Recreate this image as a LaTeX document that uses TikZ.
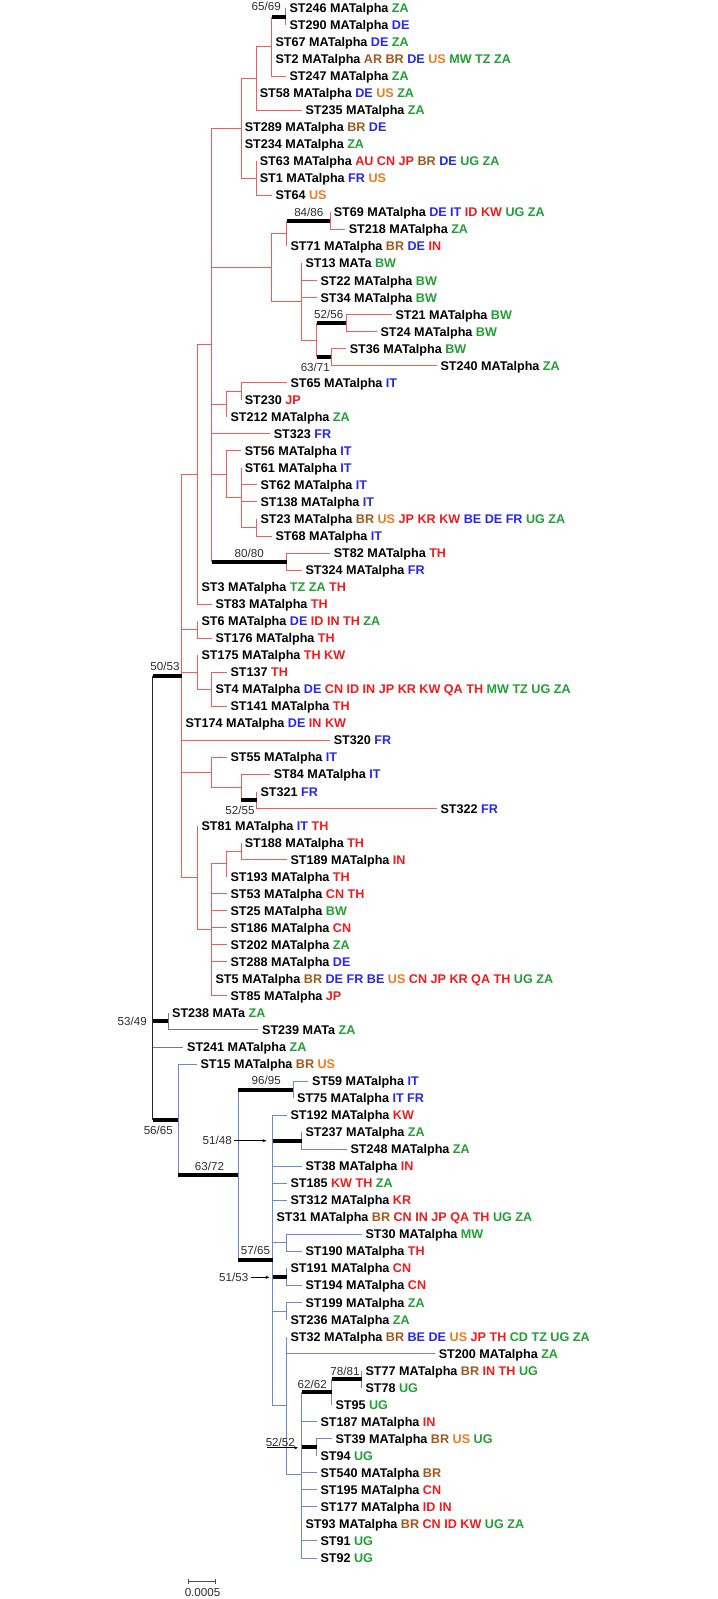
\documentclass[tikz,border=0pt]{standalone}
\usepackage{fontspec}
\setmainfont{Liberation Sans}
\usetikzlibrary{arrows.meta}
\definecolor{cgr}{RGB}{34,160,52}
\definecolor{cbl}{RGB}{40,40,235}
\definecolor{crd}{RGB}{238,28,28}
\definecolor{cbr}{RGB}{160,90,30}
\definecolor{cor}{RGB}{240,122,32}
\definecolor{brred}{RGB}{242,92,92}
\definecolor{brblue}{RGB}{108,138,198}
\definecolor{brgray}{RGB}{120,120,120}
\definecolor{brblack}{RGB}{40,40,40}
\definecolor{suptext}{RGB}{45,45,45}
\newcommand\cG[1]{\textcolor{cgr}{#1}}
\newcommand\cB[1]{\textcolor{cbl}{#1}}
\newcommand\cR[1]{\textcolor{crd}{#1}}
\newcommand\cN[1]{\textcolor{cbr}{#1}}
\newcommand\cO[1]{\textcolor{cor}{#1}}
\newcommand\ry[1]{17.033*#1-9.033}
\newcommand\thk[3]{\draw[#1] (#2) -- (#2 |- #3); \draw[tb] (#2 |- #3) -- (#3);}
\tikzset{
  lf/.style={anchor=west, inner xsep=1.7pt, inner ysep=0pt, text height=4.5pt, text depth=0pt,
    font=\fontsize{6.3}{7}\selectfont\bfseries, text=black},
  sup/.style={inner sep=1pt, text height=4.15pt, text depth=0pt,
    font=\fontsize{5.8}{6.5}\selectfont, text=suptext},
  rb/.style={draw=brred, line width=0.5pt},
  bb/.style={draw=brblue, line width=0.5pt},
  gb/.style={draw=brgray, line width=0.5pt},
  kb/.style={draw=brblack, line width=0.5pt},
  tb/.style={draw=black, line width=2pt},
  arr/.style={draw=black, line width=0.4pt, -{Stealth[length=2pt,width=1.6pt]}},
  sbar/.style={draw=black!70, line width=0.5pt}
}
\begin{document}
\begin{tikzpicture}[x=0.5pt,y=-0.5pt]
\fill[white] (0,0) rectangle (717,1599);
\useasboundingbox (0,0) rectangle (717,1599);

% ---------- leaves ----------
\node[lf] (s246) at (285.7,\ry{1}) {ST246 MATalpha \cG{ZA}};
\node[lf] (s290) at (285.7,\ry{2}) {ST290 MATalpha \cB{DE}};
\node[lf] (s67) at (271.7,\ry{3}) {ST67 MATalpha \cB{DE} \cG{ZA}};
\node[lf] (s2) at (271.7,\ry{4}) {ST2 MATalpha \cN{AR BR} \cB{DE} \cO{US} \cG{MW TZ ZA}};
\node[lf] (s247) at (285.7,\ry{5}) {ST247 MATalpha \cG{ZA}};
\node[lf] (s58) at (256,\ry{6}) {ST58 MATalpha \cB{DE} \cO{US} \cG{ZA}};
\node[lf] (s235) at (301.7,\ry{7}) {ST235 MATalpha \cG{ZA}};
\node[lf] (s289) at (241,\ry{8}) {ST289 MATalpha \cN{BR} \cB{DE}};
\node[lf] (s234) at (241,\ry{9}) {ST234 MATalpha \cG{ZA}};
\node[lf] (s63) at (256,\ry{10}) {ST63 MATalpha \cR{AU CN JP} \cN{BR} \cB{DE} \cG{UG ZA}};
\node[lf] (s1) at (256,\ry{11}) {ST1 MATalpha \cB{FR} \cO{US}};
\node[lf] (s64) at (271.7,\ry{12}) {ST64 \cO{US}};
\node[lf] (s69) at (330,\ry{13}) {ST69 MATalpha \cB{DE IT} \cR{ID KW} \cG{UG ZA}};
\node[lf] (s218) at (345,\ry{14}) {ST218 MATalpha \cG{ZA}};
\node[lf] (s71) at (286.7,\ry{15}) {ST71 MATalpha \cN{BR} \cB{DE} \cR{IN}};
\node[lf] (s13) at (301.7,\ry{16}) {ST13 MATa \cG{BW}};
\node[lf] (s22) at (316.7,\ry{17}) {ST22 MATalpha \cG{BW}};
\node[lf] (s34) at (316.7,\ry{18}) {ST34 MATalpha \cG{BW}};
\node[lf] (s21) at (391.7,\ry{19}) {ST21 MATalpha \cG{BW}};
\node[lf] (s24) at (376.7,\ry{20}) {ST24 MATalpha \cG{BW}};
\node[lf] (s36) at (346,\ry{21}) {ST36 MATalpha \cG{BW}};
\node[lf] (s240) at (436.7,\ry{22}) {ST240 MATalpha \cG{ZA}};
\node[lf] (s65) at (286.7,\ry{23}) {ST65 MATalpha \cB{IT}};
\node[lf] (s230) at (241,\ry{24}) {ST230 \cR{JP}};
\node[lf] (s212) at (226.7,\ry{25}) {ST212 MATalpha \cG{ZA}};
\node[lf] (s323) at (270,\ry{26}) {ST323 \cB{FR}};
\node[lf] (s56) at (241,\ry{27}) {ST56 MATalpha \cB{IT}};
\node[lf] (s61) at (241,\ry{28}) {ST61 MATalpha \cB{IT}};
\node[lf] (s62) at (256.7,\ry{29}) {ST62 MATalpha \cB{IT}};
\node[lf] (s138) at (256.7,\ry{30}) {ST138 MATalpha \cB{IT}};
\node[lf] (s23) at (256.7,\ry{31}) {ST23 MATalpha \cN{BR} \cO{US} \cR{JP KR KW} \cB{BE DE FR} \cG{UG ZA}};
\node[lf] (s68) at (271.7,\ry{32}) {ST68 MATalpha \cB{IT}};
\node[lf] (s82) at (330,\ry{33}) {ST82 MATalpha \cR{TH}};
\node[lf] (s324) at (301.7,\ry{34}) {ST324 MATalpha \cB{FR}};
\node[lf] (s3) at (197.7,\ry{35}) {ST3 MATalpha \cG{TZ ZA} \cR{TH}};
\node[lf] (s83) at (211.7,\ry{36}) {ST83 MATalpha \cR{TH}};
\node[lf] (s6) at (197.7,\ry{37}) {ST6 MATalpha \cB{DE} \cR{ID IN TH} \cG{ZA}};
\node[lf] (s176) at (211.7,\ry{38}) {ST176 MATalpha \cR{TH}};
\node[lf] (s175) at (197.7,\ry{39}) {ST175 MATalpha \cR{TH KW}};
\node[lf] (s137) at (226.7,\ry{40}) {ST137 \cR{TH}};
\node[lf] (s4) at (211.7,\ry{41}) {ST4 MATalpha \cB{DE} \cR{CN ID IN JP KR KW QA TH} \cG{MW TZ UG ZA}};
\node[lf] (s141) at (226.7,\ry{42}) {ST141 MATalpha \cR{TH}};
\node[lf] (s174) at (181.7,\ry{43}) {ST174 MATalpha \cB{DE} \cR{IN KW}};
\node[lf] (s320) at (330,\ry{44}) {ST320 \cB{FR}};
\node[lf] (s55) at (226.7,\ry{45}) {ST55 MATalpha \cB{IT}};
\node[lf] (s84) at (270,\ry{46}) {ST84 MATalpha \cB{IT}};
\node[lf] (s321) at (256.7,\ry{47}) {ST321 \cB{FR}};
\node[lf] (s322) at (436.7,\ry{48}) {ST322 \cB{FR}};
\node[lf] (s81) at (197.7,\ry{49}) {ST81 MATalpha \cB{IT} \cR{TH}};
\node[lf] (s188) at (241,\ry{50}) {ST188 MATalpha \cR{TH}};
\node[lf] (s189) at (286.7,\ry{51}) {ST189 MATalpha \cR{IN}};
\node[lf] (s193) at (226.7,\ry{52}) {ST193 MATalpha \cR{TH}};
\node[lf] (s53) at (226.7,\ry{53}) {ST53 MATalpha \cR{CN TH}};
\node[lf] (s25) at (226.7,\ry{54}) {ST25 MATalpha \cG{BW}};
\node[lf] (s186) at (226.7,\ry{55}) {ST186 MATalpha \cR{CN}};
\node[lf] (s202) at (226.7,\ry{56}) {ST202 MATalpha \cG{ZA}};
\node[lf] (s288) at (226.7,\ry{57}) {ST288 MATalpha \cB{DE}};
\node[lf] (s5) at (211.7,\ry{58}) {ST5 MATalpha \cN{BR} \cB{DE FR BE} \cO{US} \cR{CN JP KR QA TH} \cG{UG ZA}};
\node[lf] (s85) at (226.7,\ry{59}) {ST85 MATalpha \cR{JP}};
\node[lf] (s238) at (168.3,\ry{60}) {ST238 MATa \cG{ZA}};
\node[lf] (s239) at (258.3,\ry{61}) {ST239 MATa \cG{ZA}};
\node[lf] (s241) at (183.3,\ry{62}) {ST241 MATalpha \cG{ZA}};
\node[lf] (s15) at (196.7,\ry{63}) {ST15 MATalpha \cN{BR} \cO{US}};
\node[lf] (s59) at (308.3,\ry{64}) {ST59 MATalpha \cB{IT}};
\node[lf] (s75) at (293.3,\ry{65}) {ST75 MATalpha \cB{IT FR}};
\node[lf] (s192) at (286.7,\ry{66}) {ST192 MATalpha \cR{KW}};
\node[lf] (s237) at (301.7,\ry{67}) {ST237 MATalpha \cG{ZA}};
\node[lf] (s248) at (346.7,\ry{68}) {ST248 MATalpha \cG{ZA}};
\node[lf] (s38) at (301.7,\ry{69}) {ST38 MATalpha \cR{IN}};
\node[lf] (s185) at (286.7,\ry{70}) {ST185 \cR{KW TH} \cG{ZA}};
\node[lf] (s312) at (286.7,\ry{71}) {ST312 MATalpha \cR{KR}};
\node[lf] (s31) at (272.7,\ry{72}) {ST31 MATalpha \cN{BR} \cR{CN IN JP QA TH} \cG{UG ZA}};
\node[lf] (s30) at (361.7,\ry{73}) {ST30 MATalpha \cG{MW}};
\node[lf] (s190) at (301.7,\ry{74}) {ST190 MATalpha \cR{TH}};
\node[lf] (s191) at (286.7,\ry{75}) {ST191 MATalpha \cR{CN}};
\node[lf] (s194) at (301.7,\ry{76}) {ST194 MATalpha \cR{CN}};
\node[lf] (s199) at (301.7,\ry{77}) {ST199 MATalpha \cG{ZA}};
\node[lf] (s236) at (286.7,\ry{78}) {ST236 MATalpha \cG{ZA}};
\node[lf] (s32) at (286.7,\ry{79}) {ST32 MATalpha \cN{BR} \cB{BE DE} \cO{US} \cR{JP TH} \cG{CD TZ UG ZA}};
\node[lf] (s200) at (435,\ry{80}) {ST200 MATalpha \cG{ZA}};
\node[lf] (s77) at (361.7,\ry{81}) {ST77 MATalpha \cN{BR} \cR{IN TH} \cG{UG}};
\node[lf] (s78) at (361.7,\ry{82}) {ST78 \cG{UG}};
\node[lf] (s95) at (331.7,\ry{83}) {ST95 \cG{UG}};
\node[lf] (s187) at (316.7,\ry{84}) {ST187 MATalpha \cR{IN}};
\node[lf] (s39) at (331.7,\ry{85}) {ST39 MATalpha \cN{BR} \cO{US} \cG{UG}};
\node[lf] (s94) at (316.7,\ry{86}) {ST94 \cG{UG}};
\node[lf] (s540) at (316.7,\ry{87}) {ST540 MATalpha \cN{BR}};
\node[lf] (s195) at (316.7,\ry{88}) {ST195 MATalpha \cR{CN}};
\node[lf] (s177) at (316.7,\ry{89}) {ST177 MATalpha \cR{ID IN}};
\node[lf] (s93) at (301.7,\ry{90}) {ST93 MATalpha \cN{BR} \cR{CN ID KW} \cG{UG ZA}};
\node[lf] (s91) at (316.7,\ry{91}) {ST91 \cG{UG}};
\node[lf] (s92) at (316.7,\ry{92}) {ST92 \cG{UG}};

% ---------- internal nodes ----------
\coordinate (A1a) at (285.7,\ry{1.5});
\coordinate (A1) at (271.7,\ry{3.25});
\coordinate (A2) at (256,\ry{5.125});
\coordinate (A3) at (256,\ry{11});
\coordinate (A4) at (241,\ry{8.0625});
\coordinate (B2) at (330,\ry{13.5});
\coordinate (B1) at (286.7,\ry{14.25});
\coordinate (B6) at (346,\ry{19.5});
\coordinate (B7) at (331,\ry{21.5});
\coordinate (B5) at (316.7,\ry{20.5});
\coordinate (B4) at (301.7,\ry{18.25});
\coordinate (B3) at (271.7,\ry{16.25});
\coordinate (C1) at (241,\ry{23.5});
\coordinate (C2) at (226.7,\ry{24.25});
\coordinate (D3) at (256.7,\ry{31.5});
\coordinate (D2) at (241,\ry{29.75});
\coordinate (D1) at (226.7,\ry{28.375});
\coordinate (E1) at (286.7,\ry{33.5});
\coordinate (X211) at (211.7,\ry{20.78});
\coordinate (X197) at (197.7,\ry{28.39});
\coordinate (F1) at (197.7,\ry{37.5});
\coordinate (G2) at (211.7,\ry{41});
\coordinate (G1) at (197.7,\ry{40});
\coordinate (H3) at (256.7,\ry{47.5});
\coordinate (H2) at (241,\ry{46.75});
\coordinate (H1) at (211.7,\ry{45.875});
\coordinate (I4) at (241,\ry{50.5});
\coordinate (I3) at (226.7,\ry{51.25});
\coordinate (I2) at (211.7,\ry{55.125});
\coordinate (I1) at (197.7,\ry{52.0625});
\coordinate (X181) at (181.7,\ry{40.226});
\coordinate (J1) at (168.3,\ry{60.5});
\coordinate (K3) at (293.3,\ry{64.5});
\coordinate (K5) at (301.7,\ry{67.5});
\coordinate (K6) at (286.7,\ry{73.5});
\coordinate (K7) at (286.7,\ry{75.5});
\coordinate (K8) at (286.7,\ry{77.5});
\coordinate (K13) at (361.7,\ry{81.5});
\coordinate (K11) at (331.7,\ry{82.25});
\coordinate (K12) at (316.7,\ry{85.5});
\coordinate (K10) at (301.7,\ry{87.125});
\coordinate (K9) at (286.7,\ry{83.0625});
\coordinate (K4) at (272.7,\ry{74.53});
\coordinate (K2) at (238.3,\ry{69.516});
\coordinate (K1) at (178.3,\ry{66.258});
\coordinate (RT) at (152.7,\ry{53.242});

% ---------- red clade ----------
\foreach \p/\c in {A1a/s246.west, A1a/s290.west, A1/s67.west, A1/s2.west, A1/s247.west,
  A2/A1, A2/s58.west, A2/s235.west, A3/s63.west, A3/s1.west, A3/s64.west,
  A4/A2, A4/s289.west, A4/s234.west, A4/A3, B2/s69.west, B2/s218.west, B1/s71.west,
  B6/s21.west, B6/s24.west, B7/s36.west, B7/s240.west, B4/s13.west, B4/s22.west, B4/s34.west, B4/B5,
  B3/B1, B3/B4, C1/s65.west, C1/s230.west, C2/C1, C2/s212.west, D3/s23.west, D3/s68.west,
  D2/s61.west, D2/s62.west, D2/s138.west, D2/D3, D1/s56.west, D1/D2, E1/s82.west, E1/s324.west,
  X211/A4, X211/B3, X211/C2, X211/s323.west, X211/D1, X197/X211, X197/s3.west, X197/s83.west,
  F1/s6.west, F1/s176.west, G2/s137.west, G2/s4.west, G2/s141.west, G1/s175.west, G1/G2,
  H3/s321.west, H3/s322.west, H2/s84.west, H1/s55.west, H1/H2, I4/s188.west, I4/s189.west,
  I3/I4, I3/s193.west, I2/I3, I2/s53.west, I2/s25.west, I2/s186.west, I2/s202.west, I2/s288.west,
  I2/s5.west, I2/s85.west, I1/s81.west, I1/I2, X181/X197, X181/F1, X181/G1, X181/s174.west,
  X181/s320.west, X181/H1, X181/I1}
  {\draw[rb] (\p) |- (\c);}
\thk{rb}{A1}{A1a}
\thk{rb}{B1}{B2}
\thk{rb}{B5}{B6}
\thk{rb}{B5}{B7}
\thk{rb}{X211}{E1}
\thk{rb}{H2}{H3}

% ---------- root and gray ----------
\draw[gb] (J1) |- (s238.west);
\draw[gb] (J1) |- (s239.west);
\draw[kb] (RT) -- (RT |- s241.west);
\draw[gb] (RT |- s241.west) -- (s241.west);
\thk{kb}{RT}{X181}
\thk{kb}{RT}{J1}
\thk{kb}{RT}{K1}

% ---------- blue clade ----------
\foreach \p/\c in {K3/s59.west, K3/s75.west, K5/s237.west, K5/s248.west, K6/s30.west, K6/s190.west,
  K7/s191.west, K7/s194.west, K8/s199.west, K8/s236.west, K13/s77.west, K13/s78.west, K11/s95.west,
  K12/s39.west, K12/s94.west, K10/s187.west, K10/s540.west, K10/s195.west, K10/s177.west,
  K10/s93.west, K10/s91.west, K10/s92.west, K9/s32.west, K9/s200.west, K9/K10,
  K4/s192.west, K4/s38.west, K4/s185.west, K4/s312.west, K4/s31.west, K4/K6, K4/K8, K4/K9,
  K1/s15.west}
  {\draw[bb] (\p) |- (\c);}
\thk{bb}{K11}{K13}
\thk{bb}{K10}{K11}
\thk{bb}{K10}{K12}
\thk{bb}{K4}{K5}
\thk{bb}{K4}{K7}
\thk{bb}{K2}{K3}
\thk{bb}{K2}{K4}
\thk{bb}{K1}{K2}

% ---------- support values ----------
\node[sup] (l6569) at (266.2,6.7) {65/69};
\node[sup] (l8486) at (308.8,212.7) {84/86};
\node[sup] (l5256) at (328.7,314.3) {52/56};
\node[sup] (l6371) at (315.3,367.7) {63/71};
\node[sup] (l8080) at (249.2,553.3) {80/80};
\node[sup] (l5053) at (165,666) {50/53};
\node[sup] (l5255) at (240,810) {52/55};
\node[sup] (l5349) at (132.2,1021) {53/49};
\node[sup] (l5665) at (158.3,1130) {56/65};
\node[sup] (l9695) at (266.2,1080.7) {96/95};
\node[sup] (l5148) at (217.2,1140.7) {51/48};
\node[sup] (l6372) at (209.5,1166) {63/72};
\node[sup] (l5765) at (255.5,1250) {57/65};
\node[sup] (l5153) at (233.7,1277.3) {51/53};
\node[sup] (l7881) at (345,1371) {78/81};
\node[sup] (l6262) at (312.2,1384) {62/62};
\node[sup] (l5252) at (280.3,1442.7) {52/52};

\coordinate (a5148) at (266.5,1140.7);
\draw[arr] (l5148.east) -- (l5148.east -| a5148);
\coordinate (a5153) at (269.5,1277.3);
\draw[arr] (l5153.east) -- (l5153.east -| a5153);
\coordinate (u5252) at (266.7,1447.8);
\coordinate (a5252) at (298,1447.8);
\draw[arr] (u5252) -- (a5252);

% ---------- scale bar ----------
\coordinate (sbl) at (188.3,1581.7);
\coordinate (sbr) at (215.7,1581.7);
\draw[sbar] (sbl) -- (sbr);
\draw[sbar] ([yshift=1.2pt]sbl) -- ([yshift=-1.2pt]sbl);
\draw[sbar] ([yshift=1.2pt]sbr) -- ([yshift=-1.2pt]sbr);
\node[sup] (sbt) at (202.5,1592.7) {0.0005};
\end{tikzpicture}
\end{document}
